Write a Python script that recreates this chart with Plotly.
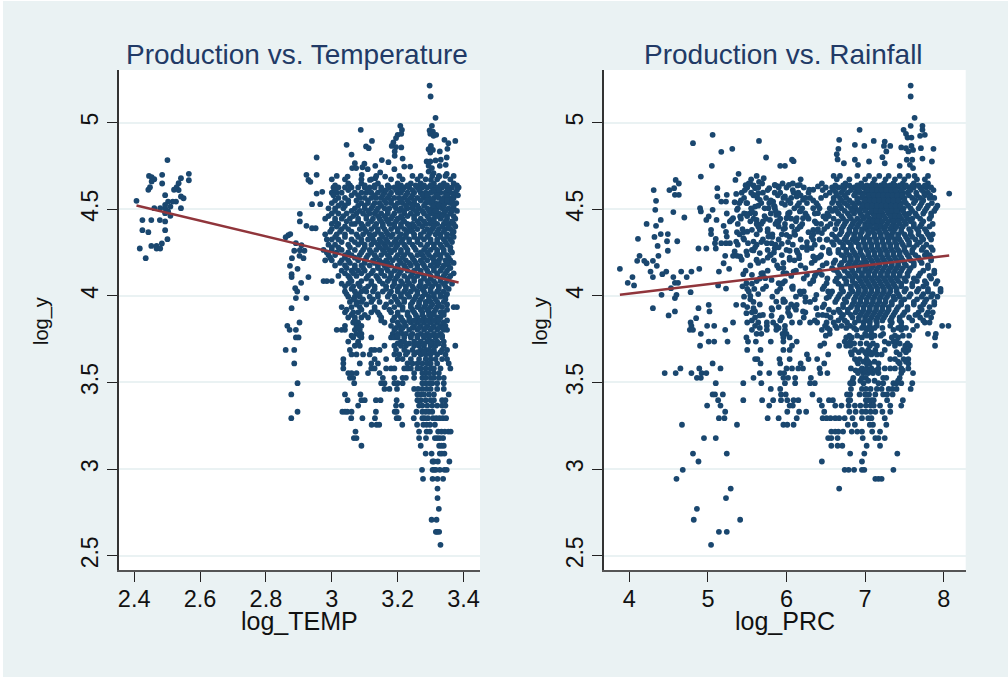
import plotly.graph_objects as go

# ---- Panel A: log_TEMP vs log_y ----
temp_sparse_x = [2.501,2.445,2.453,2.461,2.485,2.453,2.485,2.448,2.443,2.542,2.566,2.566,2.535,2.529,2.521,2.535,2.494,2.407,2.542,2.550,2.527,2.517,2.503,2.494,2.510,2.494,2.479,2.461,2.542,2.503,2.494,2.510,2.425,2.452,2.478,2.494,2.425,2.443,2.494,2.501,2.484,2.452,2.468,2.417,2.468,2.479,2.435,
 2.954,2.923,2.954,2.929,2.935,2.954,2.971,2.940,2.965,2.903,2.903,2.923,2.940,2.951,2.874,2.868,2.860,2.891,2.908,2.886,2.903,2.917,2.902,2.879,2.914,2.873,2.896,2.878,2.878,2.929,2.907,2.889,2.895,2.891,2.923,2.878,2.865,2.872,2.891,2.902,2.891,2.899,2.860,2.886,2.886,2.896,2.877,2.896,2.877,
 3.088,3.045,3.122,3.104,3.112,3.060,3.152,3.172,3.132,3.070,3.062,3.074,3.099,3.093,3.109,3.048,3.091,3.147,3.132,3.116,3.162,3.190,3.220,3.238,3.215,3.208,3.213,3.211,3.200,3.195,3.187,3.182,3.195,3.211,3.191,3.191,
 3.297,3.300,3.315,3.304,3.297,3.307,3.299,3.309,3.317,3.342,3.354,3.375,3.351,3.301,3.294,3.307,3.299,3.328,3.349,3.288,3.299,3.315,3.331,3.328,3.346,3.294,3.304,3.294,3.309,3.349,3.326,3.301]
temp_sparse_y = [4.783,4.692,4.685,4.673,4.698,4.660,4.648,4.627,4.612,4.679,4.704,4.667,4.650,4.627,4.612,4.610,4.581,4.548,4.573,4.563,4.544,4.544,4.544,4.525,4.515,4.506,4.506,4.506,4.506,4.487,4.477,4.462,4.437,4.437,4.437,4.429,4.379,4.367,4.379,4.327,4.302,4.288,4.288,4.273,4.273,4.273,4.217,
 4.798,4.698,4.698,4.669,4.658,4.590,4.600,4.529,4.529,4.473,4.429,4.404,4.390,4.390,4.356,4.350,4.338,4.304,4.292,4.260,4.263,4.260,4.231,4.217,4.217,4.173,4.156,4.125,4.108,4.108,4.075,4.044,4.025,3.987,3.987,3.929,3.827,3.804,3.804,3.846,3.760,3.760,3.688,3.688,3.610,3.496,3.431,3.331,3.294,
 4.958,4.871,4.894,4.862,4.852,4.815,4.783,4.771,4.750,4.765,4.737,4.737,4.762,4.742,4.731,4.688,4.698,4.712,4.679,4.669,4.688,4.731,4.746,4.746,4.792,4.981,4.958,4.935,4.929,4.910,4.885,4.865,4.858,4.856,4.833,4.808,
 5.213,5.150,5.027,4.981,4.954,4.948,4.935,4.923,4.929,4.900,4.881,4.894,4.848,4.865,4.846,4.842,4.827,4.833,4.798,4.775,4.775,4.781,4.785,4.750,4.756,4.750,4.737,4.717,4.708,4.704,4.688,4.669]
n_temp = min(len(temp_sparse_x), len(temp_sparse_y))
temp_sparse_x = temp_sparse_x[:n_temp]
temp_sparse_y = temp_sparse_y[:n_temp]

temp_levels = [4.648,4.625,4.595,4.565,4.535,4.505,4.475,4.445,4.415,4.385,4.355,4.325,4.295,4.265,4.235,4.205,4.175,4.145,4.115,4.085,4.055,4.025,3.995,3.965,3.935,3.905,3.875,
 3.846,3.827,3.804,3.781,3.760,3.736,3.712,3.688,3.662,3.635,3.610,3.581,3.554,3.527,3.496,3.463,3.431,3.398,3.367,3.331,3.294,3.256,3.217,3.179,3.135,3.090,3.044,2.996,2.944,2.888,2.833,2.771,2.708,2.638,2.563]
temp_rows = [
 [3.05,3.09,3.14,3.20,3.24,3.27,3.31,3.34,3.37],
 [3.005,3.02,3.04,3.06,3.08,3.10,3.115,3.13,3.15,3.175,3.19,3.205,3.22,3.235,3.26,3.275,3.29,3.305,3.32,3.335,3.35,3.365,3.385],
 [3.0,3.015,3.03,3.07,3.09,3.105,3.12,3.14,3.16,3.18,3.20,3.21,3.23,3.25,3.27,3.285,3.30,3.315,3.33,3.345,3.36,3.375],
 [3.02,3.04,3.085,3.10,3.12,3.135,3.15,3.17,3.19,3.205,3.22,3.24,3.26,3.28,3.295,3.31,3.325,3.34,3.355,3.37],
 [3.0,3.03,3.05,3.09,3.11,3.13,3.145,3.165,3.18,3.20,3.215,3.235,3.25,3.285,3.30,3.315,3.33,3.345,3.36,3.378],
 [2.99,3.01,3.035,3.07,3.10,3.12,3.14,3.16,3.175,3.195,3.21,3.23,3.245,3.265,3.29,3.305,3.32,3.335,3.355,3.37],
 [3.0,3.02,3.045,3.075,3.095,3.115,3.13,3.15,3.17,3.19,3.22,3.24,3.26,3.28,3.30,3.31,3.325,3.34,3.36],
 [2.98,3.01,3.03,3.055,3.08,3.105,3.125,3.145,3.165,3.18,3.20,3.215,3.25,3.27,3.295,3.31,3.33,3.35,3.375],
 [3.0,3.02,3.06,3.07,3.09,3.11,3.135,3.155,3.175,3.19,3.21,3.23,3.245,3.265,3.285,3.30,3.32,3.34,3.355,3.37],
 [3.0,3.03,3.05,3.085,3.10,3.12,3.14,3.16,3.18,3.20,3.22,3.24,3.26,3.29,3.305,3.325,3.345,3.36],
 [2.98,3.015,3.04,3.075,3.095,3.115,3.13,3.15,3.17,3.185,3.21,3.225,3.25,3.27,3.295,3.315,3.33,3.35,3.365],
 [2.985,3.0,3.02,3.06,3.09,3.11,3.125,3.145,3.165,3.195,3.215,3.235,3.26,3.28,3.30,3.32,3.34,3.36],
 [2.99,3.01,3.05,3.08,3.10,3.12,3.14,3.16,3.18,3.20,3.22,3.245,3.27,3.29,3.31,3.33,3.35],
 [2.975,3.0,3.03,3.07,3.095,3.115,3.135,3.155,3.175,3.19,3.21,3.23,3.255,3.28,3.30,3.32,3.34,3.36],
 [2.99,3.01,3.04,3.06,3.085,3.11,3.13,3.15,3.17,3.20,3.22,3.24,3.26,3.275,3.295,3.315,3.33,3.35],
 [2.98,3.0,3.03,3.05,3.08,3.10,3.125,3.145,3.165,3.185,3.205,3.225,3.25,3.27,3.29,3.31,3.325,3.345,3.36],
 [3.01,3.04,3.07,3.09,3.115,3.14,3.16,3.18,3.20,3.22,3.24,3.26,3.28,3.30,3.32,3.34,3.355],
 [3.03,3.06,3.08,3.10,3.125,3.15,3.17,3.19,3.21,3.23,3.25,3.27,3.29,3.31,3.33,3.35],
 [3.02,3.05,3.075,3.11,3.135,3.16,3.18,3.20,3.22,3.24,3.26,3.28,3.30,3.32,3.34,3.36],
 [2.975,2.985,3.0,3.06,3.09,3.12,3.145,3.17,3.19,3.21,3.23,3.25,3.27,3.29,3.31,3.33,3.35],
 [3.04,3.065,3.085,3.11,3.13,3.165,3.185,3.205,3.225,3.245,3.265,3.285,3.305,3.325,3.345],
 [3.04,3.07,3.09,3.105,3.125,3.155,3.18,3.20,3.22,3.24,3.26,3.28,3.30,3.32,3.34],
 [3.05,3.07,3.085,3.115,3.14,3.17,3.19,3.21,3.235,3.255,3.275,3.295,3.31,3.33,3.345],
 [3.055,3.075,3.09,3.12,3.145,3.18,3.20,3.22,3.245,3.265,3.285,3.30,3.32,3.34],
 [3.03,3.06,3.085,3.13,3.16,3.19,3.215,3.24,3.26,3.28,3.30,3.32,3.335,3.37,3.38],
 [3.04,3.065,3.08,3.12,3.14,3.18,3.20,3.23,3.25,3.275,3.295,3.31,3.33,3.34],
 [3.05,3.07,3.09,3.11,3.15,3.19,3.21,3.235,3.26,3.28,3.30,3.32,3.33],
 [3.065,3.08,3.16,3.20,3.22,3.24,3.26,3.28,3.30,3.32,3.34],
 [3.04,3.075,3.09,3.18,3.205,3.225,3.25,3.27,3.29,3.31,3.33,3.345],
 [3.015,3.03,3.04,3.07,3.085,3.19,3.21,3.235,3.26,3.28,3.30,3.32,3.34,3.35],
 [3.075,3.09,3.185,3.20,3.215,3.225,3.245,3.27,3.29,3.31,3.33],
 [3.065,3.09,3.12,3.18,3.19,3.20,3.22,3.24,3.26,3.28,3.295,3.315,3.335],
 [3.05,3.08,3.21,3.22,3.25,3.27,3.29,3.305,3.32,3.34],
 [3.07,3.085,3.16,3.19,3.21,3.225,3.25,3.265,3.28,3.30,3.315,3.34,3.375],
 [3.055,3.12,3.13,3.145,3.195,3.22,3.245,3.27,3.285,3.295,3.31,3.335,3.35],
 [3.06,3.075,3.095,3.115,3.19,3.205,3.225,3.25,3.27,3.285,3.30,3.32,3.345],
 [3.035,3.13,3.165,3.20,3.215,3.24,3.265,3.285,3.30,3.315,3.335,3.35],
 [3.035,3.085,3.12,3.14,3.23,3.245,3.26,3.275,3.29,3.30,3.32,3.355],
 [3.035,3.12,3.13,3.165,3.18,3.19,3.22,3.23,3.24,3.26,3.27,3.285,3.30,3.31,3.33,3.36],
 [3.05,3.06,3.075,3.11,3.145,3.25,3.275,3.285,3.295,3.31,3.325],
 [3.055,3.065,3.155,3.19,3.215,3.225,3.25,3.275,3.285,3.30,3.31,3.325,3.34],
 [3.068,3.15,3.16,3.19,3.20,3.215,3.275,3.285,3.295,3.305,3.32,3.34],
 [3.16,3.175,3.198,3.25,3.262,3.275,3.288,3.30,3.32,3.34],
 [3.04,3.087,3.26,3.27,3.28,3.295,3.31,3.355],
 [3.048,3.09,3.10,3.134,3.148,3.197,3.26,3.27,3.285,3.30,3.31,3.335,3.345],
 [3.08,3.195,3.212,3.265,3.275,3.29,3.305,3.32,3.335,3.345],
 [3.032,3.04,3.047,3.06,3.134,3.191,3.197,3.257,3.275,3.285,3.295,3.305,3.338],
 [3.059,3.093,3.131,3.197,3.203,3.249,3.275,3.282,3.292,3.307,3.317,3.327,3.337,3.347],
 [3.121,3.136,3.144,3.214,3.259,3.278,3.288,3.298,3.313],
 [3.072,3.265,3.288,3.298,3.323,3.333,3.343,3.354,3.361],
 [3.067,3.075,3.265,3.286,3.313,3.320,3.328,3.338],
 [3.090,3.27,3.326,3.333,3.340],
 [3.285,3.303,3.328,3.334,3.342],
 [3.306,3.310,3.322,3.357],
 [3.274,3.306,3.311,3.316,3.328,3.342,3.349],
 [3.277,3.306,3.321,3.338],
 [3.321],
 [3.321],
 [3.325],
 [3.303,3.318],
 [3.316,3.320,3.326],
 [3.330],
]

temp_fill_levels = [4.692,4.672,4.637,4.61,4.58,4.55,4.52,4.49,4.46,4.43,4.40,4.37,4.34,4.31,4.28,4.25,4.22,4.19,4.16,4.13,4.10,4.07,4.04,4.01,3.98,3.95,3.92,3.89,3.858,3.815,3.77,3.725,3.675]
temp_fill_rows = [
 [3.015,3.135,3.205,3.245,3.27,3.305,3.325,3.345,3.37],
 [3.0,3.04,3.09,3.12,3.18,3.215,3.26,3.285,3.32,3.36],
 [3.01,3.055,3.10,3.13,3.17,3.21,3.23,3.255,3.28,3.30,3.33,3.35,3.38],
 [3.01,3.05,3.11,3.15,3.165,3.195,3.215,3.245,3.265,3.31,3.325,3.355,3.38],
 [3.005,3.06,3.08,3.13,3.155,3.175,3.225,3.245,3.275,3.29,3.32,3.35,3.37,3.383],
 [3.01,3.05,3.075,3.11,3.16,3.18,3.21,3.23,3.25,3.27,3.29,3.305,3.335,3.35,3.365],
 [3.02,3.04,3.08,3.10,3.125,3.15,3.19,3.225,3.245,3.26,3.28,3.31,3.325,3.34,3.37],
 [3.01,3.06,3.085,3.11,3.135,3.17,3.205,3.22,3.255,3.275,3.295,3.315,3.345,3.365,3.38],
 [2.99,3.035,3.065,3.105,3.14,3.16,3.185,3.21,3.23,3.25,3.29,3.32,3.335,3.35,3.37],
 [3.01,3.045,3.08,3.12,3.15,3.17,3.195,3.22,3.26,3.28,3.30,3.31,3.345,3.365],
 [3.015,3.04,3.095,3.13,3.155,3.19,3.21,3.235,3.25,3.275,3.31,3.335,3.355,3.375],
 [2.995,3.025,3.06,3.105,3.14,3.165,3.20,3.23,3.245,3.28,3.30,3.32,3.34,3.37],
 [3.01,3.04,3.08,3.12,3.155,3.18,3.205,3.225,3.25,3.27,3.29,3.33,3.35,3.37],
 [3.03,3.07,3.09,3.13,3.15,3.17,3.19,3.21,3.235,3.26,3.30,3.32,3.345,3.365],
 [3.0,3.02,3.055,3.10,3.145,3.165,3.195,3.225,3.25,3.285,3.31,3.335,3.36],
 [2.985,3.015,3.05,3.09,3.12,3.16,3.18,3.21,3.23,3.27,3.29,3.32,3.34,3.365],
 [2.995,3.04,3.07,3.105,3.135,3.175,3.195,3.215,3.245,3.28,3.305,3.33,3.355],
 [3.025,3.055,3.10,3.13,3.155,3.17,3.21,3.235,3.255,3.275,3.31,3.325,3.35,3.37],
 [3.045,3.07,3.095,3.14,3.165,3.20,3.225,3.26,3.285,3.31,3.335,3.36],
 [3.04,3.065,3.09,3.12,3.15,3.18,3.205,3.245,3.27,3.295,3.32,3.345,3.37],
 [3.055,3.105,3.14,3.175,3.195,3.23,3.25,3.28,3.30,3.33,3.355],
 [3.03,3.05,3.08,3.12,3.155,3.19,3.215,3.235,3.27,3.295,3.315,3.34,3.365],
 [3.06,3.10,3.13,3.165,3.20,3.225,3.25,3.275,3.30,3.325,3.355],
 [3.045,3.08,3.14,3.175,3.21,3.23,3.26,3.285,3.31,3.33,3.35],
 [3.065,3.095,3.125,3.195,3.22,3.25,3.27,3.295,3.315,3.345],
 [3.075,3.105,3.165,3.205,3.24,3.265,3.285,3.305,3.325,3.35],
 [3.045,3.09,3.13,3.175,3.215,3.245,3.27,3.29,3.315,3.35],
 [3.06,3.10,3.145,3.20,3.23,3.255,3.275,3.295,3.31,3.34],
 [3.07,3.15,3.185,3.215,3.235,3.25,3.27,3.29,3.31,3.325,3.35],
 [3.08,3.195,3.215,3.245,3.265,3.285,3.305,3.325,3.34],
 [3.06,3.085,3.20,3.24,3.26,3.28,3.30,3.32,3.335],
 [3.08,3.20,3.235,3.26,3.28,3.30,3.325],
 [3.23,3.26,3.28,3.30,3.31,3.33],
]

temp_fit_x = [2.407, 3.385]
temp_fit_y = [4.521, 4.077]

# ---- Panel B: log_PRC vs log_y ----
prc_sparse_x = [7.58,7.58,7.63,7.58,7.73,7.49,7.73,7.52,7.59,7.54,7.70,7.76,6.93,5.06,4.81,5.65,6.67,7.11,7.25,7.32,7.24,6.87,6.99,6.66,6.64,6.65,6.73,5.17,5.31,5.74,5.05,6.07,6.09,5.92,5.98,7.27,7.22,7.25,7.46,7.52,7.59,7.55,7.61,7.71,7.87,7.73,7.85,7.53,7.60,6.87,7.05,6.91,7.44,7.57,7.61,
 4.91,5.39,5.35,4.59,4.63,4.31,4.51,4.57,4.58,4.63,4.34,4.33,4.56,4.70,4.40,4.22,4.34,4.11,4.32,4.40,4.49,4.48,4.61,4.36,4.49,4.37,4.13,4.10,4.19,4.22,4.30,4.35,3.88,4.27,4.04,4.30,3.98,4.06,4.42,4.47,4.56,4.66,4.73,4.79,4.89,4.58,4.62,4.53,4.41,4.78,4.60,4.58,4.30,4.58,4.50,4.88,5.01,5.02,4.85,5.13,5.23,5.14,5.20,5.27,
 4.88,4.98,5.10,5.09,5.10,5.04,5.04,5.20,5.23,5.24,5.17,5.23,5.28,5.36,5.22,5.34,5.32,5.37,4.90,4.91,5.01,4.98,5.06,5.11,5.24,5.12,5.12,5.17,5.23,5.24,5.34,5.36,5.37,5.28,5.32,8.07]
prc_sparse_y = [5.213,5.150,5.027,4.981,4.981,4.958,4.958,4.935,4.913,4.913,4.923,4.929,4.958,4.929,4.881,4.894,4.900,4.894,4.890,4.865,4.865,4.871,4.865,4.848,4.817,4.787,4.765,4.831,4.848,4.798,4.750,4.785,4.777,4.750,4.750,4.833,4.800,4.765,4.856,4.852,4.865,4.833,4.842,4.852,4.848,4.792,4.775,4.785,4.785,4.785,4.775,4.756,4.750,4.756,4.737,
 4.688,4.704,4.669,4.669,4.648,4.610,4.610,4.621,4.583,4.583,4.548,4.496,4.483,4.452,4.438,4.415,4.404,4.329,4.340,4.356,4.356,4.315,4.315,4.288,4.260,4.231,4.231,4.202,4.202,4.188,4.202,4.173,4.156,4.140,4.108,4.108,4.075,4.060,4.125,4.140,4.108,4.140,4.108,4.140,4.156,4.075,4.075,4.044,4.006,4.021,4.006,3.987,3.929,3.910,3.887,3.929,3.948,3.910,3.871,4.060,4.042,4.140,4.188,4.156,
 4.273,4.273,4.273,4.304,4.329,4.356,4.381,4.404,4.369,4.342,4.304,4.304,4.304,4.313,4.231,4.256,4.231,4.231,4.506,4.487,4.458,4.438,4.496,4.438,4.475,4.621,4.573,4.544,4.544,4.583,4.540,4.588,4.496,4.429,4.448,4.590]
n_prc = min(len(prc_sparse_x), len(prc_sparse_y))
prc_sparse_x = prc_sparse_x[:n_prc]
prc_sparse_y = prc_sparse_y[:n_prc]

# points of the middle band (log_PRC 5.3 to 6.6), read one by one
prc_mid_x = [5.48,5.54,5.60,5.65,5.71,5.78,5.85,5.90,6.03,6.17,6.29,6.34,6.40,
 5.58,5.64,5.66,5.83,5.98,6.09,6.13,6.21,6.26,
 5.49,5.54,5.60,5.77,5.85,5.87,5.98,6.04,6.17,6.34,6.40,
 5.30,5.41,5.49,5.62,5.70,5.79,5.90,6.00,6.13,6.21,6.38,6.47,
 5.37,5.45,5.56,5.66,5.77,5.98,6.07,6.17,6.28,6.34,6.45,
 5.45,5.51,5.58,5.75,5.81,5.94,6.00,6.11,6.26,6.34,6.51,
 5.49,5.58,5.66,5.79,5.85,6.04,6.13,6.32,6.43,6.55,
 5.43,5.41,5.62,5.70,6.04,6.16,6.34,6.51,
 5.45,5.56,5.70,5.96,5.96,6.09,6.26,6.45,6.60,
 5.49,5.73,5.81,5.90,5.95,6.34,6.51,
 5.50,5.59,5.92,6.07,6.17,6.38,6.53,6.24,
 5.54,5.36,5.45,5.58,5.87,5.98,6.13,6.24,6.38,6.51,
 5.49,5.60,5.81,6.02,6.21,5.66,5.81,6.04,6.40,6.51]
prc_mid_y = [4.638,4.646,4.621,4.658,4.679,4.621,4.640,4.631,4.640,4.640,4.612,4.612,4.631,
 4.583,4.592,4.554,4.544,4.573,4.596,4.573,4.554,4.535,
 4.535,4.477,4.515,4.506,4.515,4.467,4.525,4.481,4.487,4.506,4.477,
 4.438,4.458,4.473,4.438,4.429,4.438,4.429,4.448,4.448,4.448,4.419,4.458,
 4.367,4.367,4.381,4.381,4.342,4.390,4.400,4.400,4.367,4.381,4.362,
 4.333,4.304,4.313,4.304,4.304,4.300,4.352,4.352,4.285,4.323,4.323,
 4.256,4.262,4.246,4.237,4.275,4.260,4.262,4.275,4.227,4.246,
 4.208,4.227,4.208,4.202,4.208,4.217,4.227,4.188,
 4.125,4.121,4.131,4.160,4.131,4.140,4.121,4.121,4.150,
 4.073,4.102,4.092,4.073,4.073,4.092,4.073,
 4.040,4.040,4.042,4.050,4.025,4.006,4.025,3.992,
 4.000,3.948,3.948,3.929,3.967,3.967,3.948,3.967,3.929,3.987,
 3.900,3.910,3.929,3.929,3.910,3.887,3.885,3.885,3.890,3.887]

prc_levels = [4.648,4.625,4.595,4.565,4.535,4.505,4.475,4.445,4.415,4.385,4.355,4.325,4.295,4.265,4.235,4.205,4.175,4.145,4.115,4.085,4.055,4.025,3.995,3.965,3.935,3.905,3.875,
 3.846,3.827,3.804,3.781,3.760,3.736,3.712,3.688,3.662,3.635,3.610,3.581,3.554,3.527,3.496,3.463,3.431,3.398,3.367,3.331,3.294,3.256,3.217,3.179,3.135,3.090,3.044,2.996,2.944,2.888,2.833,2.771,2.708,2.638,2.563]
prc_rows = [
 [5.52,5.69,5.95,6.08,6.45,6.75,6.95,7.10,7.24,7.36,7.48,7.62,7.80],
 [5.50,5.64,5.90,6.00,6.22,6.50,6.58,6.66,6.74,6.86,6.92,6.98,7.04,7.10,7.16,7.22,7.28,7.34,7.40,7.50,7.56,7.62,7.70,7.78,7.84],
 [5.43,5.55,5.70,5.85,5.92,6.15,6.28,6.55,6.63,6.70,6.78,6.88,6.94,7.00,7.06,7.12,7.18,7.24,7.30,7.36,7.42,7.48,7.54,7.65,7.75,7.80],
 [5.46,5.63,5.74,5.96,6.06,6.24,6.30,6.44,6.60,6.68,6.76,6.90,6.96,7.02,7.08,7.14,7.20,7.26,7.32,7.38,7.44,7.50,7.60,7.70,7.82,7.88],
 [5.40,5.50,5.68,5.78,5.94,6.05,6.16,6.38,6.58,6.66,6.74,6.84,6.92,6.98,7.04,7.10,7.16,7.22,7.28,7.34,7.40,7.46,7.52,7.62,7.72,7.85],
 [5.38,5.55,5.72,5.85,6.10,6.20,6.42,6.55,6.62,6.70,6.82,6.88,6.95,7.01,7.07,7.13,7.19,7.25,7.31,7.37,7.43,7.49,7.58,7.68,7.78,7.90],
 [5.46,5.60,5.80,5.90,6.02,6.24,6.36,6.52,6.66,6.78,6.86,6.94,7.04,7.10,7.16,7.22,7.30,7.36,7.42,7.50,7.56,7.64,7.74,7.84],
 [5.42,5.58,5.74,5.92,6.06,6.28,6.50,6.60,6.72,6.82,6.90,6.98,7.06,7.12,7.18,7.26,7.34,7.40,7.46,7.54,7.60,7.70,7.82],
 [5.38,5.62,5.68,5.86,5.98,6.20,6.44,6.56,6.64,6.74,6.84,6.92,7.00,7.08,7.14,7.20,7.28,7.36,7.44,7.52,7.62,7.72,7.86],
 [5.44,5.66,5.76,5.96,6.14,6.40,6.48,6.62,6.70,6.80,6.88,6.96,7.02,7.10,7.16,7.24,7.32,7.38,7.46,7.56,7.66,7.76],
 [5.40,5.62,5.82,5.94,6.10,6.34,6.58,6.68,6.78,6.86,6.94,7.04,7.12,7.20,7.28,7.34,7.42,7.50,7.58,7.68,7.80,7.86],
 [5.46,5.70,5.90,6.18,6.42,6.52,6.64,6.74,6.84,6.90,6.98,7.06,7.14,7.22,7.30,7.38,7.44,7.54,7.64,7.74,7.84],
 [5.38,5.62,5.86,6.08,6.36,6.60,6.72,6.82,6.92,7.00,7.08,7.16,7.24,7.32,7.40,7.48,7.56,7.66,7.78],
 [5.56,5.76,6.00,6.26,6.54,6.66,6.76,6.84,6.94,7.02,7.10,7.18,7.26,7.34,7.42,7.50,7.60,7.72,7.86],
 [5.50,5.80,5.94,6.16,6.44,6.70,6.80,6.88,6.96,7.04,7.12,7.20,7.28,7.36,7.44,7.54,7.64,7.76,7.82],
 [5.62,5.84,6.10,6.36,6.62,6.74,6.82,6.90,7.00,7.08,7.16,7.24,7.32,7.40,7.48,7.58,7.70,7.84],
 [5.54,5.88,6.18,6.46,6.68,6.78,6.86,6.94,7.02,7.10,7.18,7.26,7.34,7.42,7.52,7.62,7.80],
 [5.48,5.76,6.12,6.42,6.64,6.74,6.84,6.92,7.00,7.06,7.14,7.22,7.30,7.38,7.46,7.56,7.74,7.88],
 [5.70,6.06,6.36,6.68,6.80,6.88,6.96,7.04,7.12,7.20,7.28,7.36,7.44,7.54,7.68,7.82],
 [5.62,5.98,6.34,6.62,6.76,6.84,6.94,7.02,7.10,7.18,7.26,7.34,7.42,7.52,7.66,7.76,7.92],
 [5.44,5.74,6.08,6.48,6.70,6.82,6.90,6.98,7.06,7.14,7.22,7.30,7.38,7.46,7.60,7.74],
 [5.52,5.88,6.22,6.58,6.72,6.84,6.92,7.00,7.08,7.16,7.24,7.32,7.40,7.50,7.66,7.80,7.96],
 [5.46,5.82,6.12,6.54,6.66,6.78,6.88,6.96,7.04,7.12,7.20,7.28,7.36,7.44,7.56,7.72,7.84,7.92],
 [5.58,5.96,6.30,6.62,6.76,6.86,6.94,7.02,7.10,7.18,7.26,7.34,7.46,7.62,7.76,7.88],
 [5.50,5.90,6.10,6.46,6.72,6.82,6.90,6.98,7.06,7.14,7.22,7.30,7.42,7.54,7.70,7.82],
 [5.56,6.02,6.24,6.60,6.68,6.78,6.88,6.96,7.04,7.12,7.20,7.28,7.38,7.50,7.68,7.80,7.86],
 [5.60,5.94,6.22,6.56,6.70,6.84,6.92,7.00,7.08,7.16,7.24,7.34,7.44,7.56,7.70,7.84],
 [4.78,5.32,5.50,5.64,5.75,5.83,6.07,6.17,6.30,6.39,6.51,6.60,6.77,6.87,6.98,7.06,7.15,7.34,7.46,7.76,7.82],
 [4.79,4.99,5.08,5.60,5.75,5.87,5.98,6.49,6.62,6.70,6.81,6.98,7.06,7.15,7.32,7.46,7.66,7.98,8.06],
 [4.77,4.81,5.22,5.56,5.75,5.87,5.98,6.45,6.55,6.89,7.02,7.08,7.36,7.46,7.61],
 [4.91,5.62,5.68,5.95,6.00,6.55,7.00,7.08,7.23,7.80,7.90],
 [5.49,5.96,6.04,6.76,6.83,6.96,7.08,7.34,7.42,7.89],
 [5.01,5.08,5.25,5.51,5.61,5.80,5.96,6.13,6.74,6.81,7.25,7.36,7.40],
 [4.90,6.07,6.43,6.67,6.76,6.81,7.06,7.15,7.38,7.51,7.57,7.89],
 [5.50,5.67,5.96,6.04,6.87,6.96,7.04,7.13,7.25,7.49,7.55],
 [6.26,6.53,6.83,7.02,7.08,7.15,7.21,7.44],
 [5.60,5.63,5.91,6.04,6.28,6.39,6.87,6.93,7.02,7.32,7.38,7.49,7.55],
 [5.06,5.67,5.92,6.18,6.48,6.91,7.02,7.06,7.17,7.44,7.55],
 [4.65,4.89,5.16,6.00,6.07,6.15,6.21,6.42,6.82,6.96,7.02,7.08,7.17,7.25,7.32,7.38,7.46,7.55],
 [4.45,4.59,4.79,4.92,4.98,5.66,5.78,5.92,5.97,6.43,6.52,6.91,6.98,7.04,7.10,7.17,7.46,7.61],
 [4.86,4.91,5.58,5.96,6.02,6.11,6.31,6.85,6.96,7.01,7.23,7.27,7.44],
 [5.10,5.45,5.68,5.98,6.11,6.30,6.36,6.81,6.85,6.98,7.17,7.23,7.36,7.40,7.46,7.60],
 [5.80,5.92,6.82,6.96,7.01,7.07,7.15,7.21,7.30,7.35,7.40,7.58],
 [5.06,5.09,5.19,5.93,5.99,6.33,6.77,6.81,6.93,7.00,7.05,7.13,7.23,7.28,7.35],
 [5.13,5.45,5.69,5.83,5.93,6.01,6.09,6.15,6.42,6.54,6.59,6.79,6.81,7.01,7.04,7.08,7.11,7.28,7.48],
 [4.99,5.16,5.78,6.04,6.08,6.45,6.62,6.70,6.79,6.87,6.94,7.01,7.07,7.11,7.19,7.32,7.46],
 [5.22,6.01,6.16,6.25,6.48,6.80,6.88,6.96,7.01,7.07,7.13,7.22,7.32],
 [5.14,5.21,5.76,5.90,6.13,6.46,6.51,6.56,6.62,6.67,6.74,6.84,6.96,7.04,7.08,7.25],
 [4.67,5.37,5.96,6.01,6.09,6.78,6.87,7.06,7.10,7.27],
 [6.57,6.62,6.66,6.72,6.83,6.90,6.96,7.09,7.19],
 [4.95,5.10,6.53,6.57,6.65,6.97,7.13,7.17,7.25],
 [6.57,6.65,6.71,7.02,7.19],
 [4.81,5.24,6.81,6.99,7.41],
 [4.88,6.45,6.96],
 [4.68,6.74,6.79,6.86,6.96,6.99,7.36],
 [4.60,7.13,7.17,7.21],
 [5.29,6.67],
 [5.23],
 [4.86],
 [4.82,5.41],
 [5.14,5.24],
 [5.04],
]

prc_fill_levels = [4.692,4.672,4.637,4.61,4.58,4.55,4.52,4.49,4.46,4.43,4.40,4.37,4.34,4.31,4.28,4.25,4.22,4.19,4.16,4.13,4.10,4.07,4.04,4.01,3.98,3.95,3.92,3.89,3.858,3.815,3.77,3.725,3.675,3.62,3.57,3.51]
prc_fill_rows = [
 [5.62,6.60,6.68,6.90,7.05,7.18,7.30,7.44,7.55,7.63,7.80],
 [5.55,6.18,6.64,6.80,7.00,7.12,7.26,7.38,7.50,7.66,7.76],
 [5.58,5.86,6.14,6.62,6.72,6.80,6.90,6.96,7.02,7.08,7.14,7.20,7.26,7.32,7.38,7.44,7.52,7.60,7.68,7.76],
 [5.47,5.76,6.08,6.46,6.60,6.72,6.82,6.92,7.03,7.09,7.15,7.21,7.27,7.33,7.39,7.46,7.58,7.72,7.87],
 [5.58,5.89,6.18,6.50,6.64,6.74,6.86,6.97,7.05,7.11,7.17,7.23,7.29,7.35,7.41,7.47,7.56,7.66,7.76,7.83],
 [5.42,5.80,6.02,6.34,6.60,6.70,6.80,6.90,7.00,7.06,7.12,7.18,7.24,7.30,7.36,7.42,7.50,7.64,7.74],
 [5.64,5.84,6.14,6.40,6.68,6.78,6.87,6.97,7.03,7.09,7.15,7.21,7.27,7.33,7.39,7.45,7.55,7.70,7.80,7.92],
 [5.56,5.86,6.18,6.58,6.64,6.74,6.84,6.92,7.00,7.08,7.14,7.20,7.28,7.34,7.40,7.48,7.60,7.76,7.88],
 [5.50,5.72,6.02,6.26,6.54,6.70,6.80,6.96,7.02,7.12,7.18,7.24,7.32,7.38,7.44,7.52,7.66,7.84],
 [5.54,5.88,6.12,6.36,6.66,6.76,6.86,6.94,7.04,7.10,7.16,7.22,7.30,7.36,7.42,7.50,7.58,7.74],
 [5.64,5.90,6.18,6.52,6.72,6.82,6.90,7.00,7.06,7.14,7.20,7.26,7.34,7.40,7.48,7.62,7.70,7.82],
 [5.50,5.76,6.10,6.40,6.70,6.80,6.88,6.96,7.04,7.10,7.18,7.26,7.36,7.46,7.58,7.68,7.78],
 [5.82,6.04,6.32,6.62,6.76,6.86,6.94,7.02,7.12,7.20,7.28,7.34,7.42,7.52,7.60,7.72,7.82],
 [5.68,6.02,6.26,6.58,6.68,6.78,6.88,6.98,7.06,7.14,7.22,7.30,7.38,7.46,7.56,7.70],
 [5.60,5.90,6.20,6.46,6.72,6.82,6.92,7.00,7.08,7.16,7.24,7.32,7.40,7.50,7.62,7.74,7.84],
 [5.84,6.14,6.54,6.66,6.76,6.86,6.94,7.04,7.12,7.20,7.28,7.36,7.44,7.52,7.60,7.78],
 [5.76,6.04,6.40,6.74,6.82,6.90,6.98,7.06,7.14,7.22,7.30,7.38,7.46,7.56,7.68,7.84],
 [5.64,5.96,6.32,6.60,6.70,6.80,6.88,6.96,7.02,7.10,7.18,7.26,7.34,7.42,7.50,7.62,7.72],
 [5.90,6.24,6.58,6.72,6.82,6.92,7.00,7.08,7.16,7.24,7.32,7.40,7.48,7.58,7.80],
 [5.68,6.00,6.38,6.66,6.78,6.86,6.96,7.04,7.12,7.20,7.28,7.36,7.44,7.54,7.70,7.88],
 [5.66,6.22,6.52,6.64,6.74,6.84,6.92,7.00,7.08,7.16,7.24,7.32,7.40,7.50,7.62,7.84],
 [5.56,5.94,6.30,6.66,6.76,6.88,6.96,7.04,7.12,7.20,7.28,7.36,7.46,7.60,7.78,7.90],
 [5.70,6.08,6.46,6.70,6.82,6.92,7.00,7.08,7.16,7.24,7.32,7.40,7.52,7.68,7.80,7.96],
 [5.64,6.18,6.56,6.68,6.80,6.90,6.98,7.06,7.14,7.22,7.30,7.42,7.58,7.74,7.86],
 [5.54,5.96,6.36,6.64,6.74,6.86,6.94,7.02,7.10,7.18,7.26,7.38,7.50,7.66,7.78],
 [5.66,6.06,6.48,6.72,6.84,6.92,7.00,7.08,7.16,7.24,7.34,7.46,7.62,7.74,7.88],
 [5.82,6.12,6.54,6.66,6.78,6.90,6.98,7.06,7.14,7.22,7.30,7.40,7.54,7.72],
 [5.70,6.04,6.46,6.72,6.82,6.94,7.02,7.10,7.18,7.26,7.36,7.48,7.64,7.78],
 [5.56,5.92,6.36,6.66,6.74,6.92,7.00,7.06,7.14,7.22,7.32,7.44,7.60,7.74],
 [5.66,5.90,6.52,6.64,6.76,6.86,6.96,7.04,7.12,7.22,7.42,7.52],
 [6.50,6.80,6.90,7.02,7.12,7.20,7.38,7.48,7.56],
 [6.48,6.78,6.86,6.94,7.02,7.10,7.30,7.44,7.54],
 [6.82,6.92,7.00,7.06,7.12,7.40,7.52],
 [6.90,6.98,7.04,7.12,7.42,7.52],
 [6.88,6.94,7.00,7.06,7.14,7.48],
 [6.84,6.94,7.04,7.12,7.42],
]

prc_fit_x = [3.88, 8.07]
prc_fit_y = [4.006, 4.233]

y_ticks = [2.5, 3, 3.5, 4, 4.5, 5]
y_tick_labels = ["2.5", "3", "3.5", "4", "4.5", "5"]
temp_ticks = [2.4, 2.6, 2.8, 3, 3.2, 3.4]
temp_tick_labels = ["2.4", "2.6", "2.8", "3", "3.2", "3.4"]
prc_ticks = [4, 5, 6, 7, 8]
prc_tick_labels = ["4", "5", "6", "7", "8"]

def flat(levels, rows):
    xs, ys = [], []
    for lv, row in zip(levels, rows):
        for v in row:
            xs.append(v); ys.append(lv)
    return xs, ys

BG = "#eaf2f3"; NAVY = "#1a476f"; RED = "#90353b"; TITLE = "#213a66"; FONT = "Liberation Sans"
W, H = 1008, 677
fig = go.Figure()

tx, ty = flat(temp_levels, temp_rows)
tx2, ty2 = flat(temp_fill_levels, temp_fill_rows)
px, py = flat(prc_levels, prc_rows)
px2, py2 = flat(prc_fill_levels, prc_fill_rows)
n_mid = min(len(prc_mid_x), len(prc_mid_y))
marker = dict(color=NAVY, size=5.8, line=dict(width=0))
fig.add_trace(go.Scatter(x=temp_sparse_x + tx + tx2, y=temp_sparse_y + ty + ty2, mode="markers", marker=marker, xaxis="x", yaxis="y", showlegend=False))
fig.add_trace(go.Scatter(x=temp_fit_x, y=temp_fit_y, mode="lines", line=dict(color=RED, width=2.4), xaxis="x", yaxis="y", showlegend=False))
fig.add_trace(go.Scatter(x=prc_sparse_x + prc_mid_x[:n_mid] + px + px2, y=prc_sparse_y + prc_mid_y[:n_mid] + py + py2, mode="markers", marker=marker, xaxis="x2", yaxis="y2", showlegend=False))
fig.add_trace(go.Scatter(x=prc_fit_x, y=prc_fit_y, mode="lines", line=dict(color=RED, width=2.4), xaxis="x2", yaxis="y2", showlegend=False))

def xax(rng, dom, ticks, labels, anchor):
    return dict(domain=dom, range=rng, tickmode="array", tickvals=ticks, ticktext=labels,
                ticks="outside", ticklen=10, tickwidth=1.2, tickcolor="#222", showgrid=False, zeroline=False,
                showline=True, linecolor="#555", linewidth=2, anchor=anchor, ticklabelstandoff=-3,
                tickfont=dict(family=FONT, size=23.5, color="#111"))

def yax(dom, anchor):
    return dict(domain=dom, range=[2.418, 5.303], tickmode="array", tickvals=y_ticks, ticktext=y_tick_labels,
                ticks="outside", ticklen=10, tickwidth=1.2, tickcolor="#222", showgrid=True, gridcolor=BG, gridwidth=2,
                zeroline=False, showline=True, linecolor="#333", linewidth=1.5, anchor=anchor, tickangle=-90,
                tickfont=dict(family=FONT, size=23, color="#111"))

def label(text, x, y, size, color, angle=0):
    return dict(text=text, x=x / W, y=(H - y) / H, xref="paper", yref="paper", showarrow=False, textangle=angle,
                xanchor="center", yanchor="middle", font=dict(family=FONT, size=size, color=color))

ydom = [(H - 570) / H, (H - 70) / H]
fig.update_layout(
    width=W, height=H, margin=dict(l=0, r=0, t=0, b=0), autosize=False,
    paper_bgcolor=BG, plot_bgcolor="white", showlegend=False,
    xaxis=xax([2.353, 3.45], [118.7 / W, 480 / W], temp_ticks, temp_tick_labels, "y"),
    yaxis=yax(ydom, "x"),
    xaxis2=xax([3.674, 8.28], [603.7 / W, 965.7 / W], prc_ticks, prc_tick_labels, "y2"),
    yaxis2=yax(ydom, "x2"),
    annotations=[
        label("Production vs. Temperature", 297, 54, 28, TITLE),
        label("Production vs. Rainfall", 783, 54, 28, TITLE),
        label("log_TEMP", 299, 621, 25, "#111"),
        label("log_PRC", 785, 621, 25, "#111"),
        label("log_y", 41, 321, 20, "#111", -90),
        label("log_y", 540, 321, 20, "#111", -90),
    ],
    shapes=[
        dict(type="rect", xref="paper", yref="paper", x0=0, x1=3 / W, y0=0, y1=1, fillcolor="white", line=dict(width=0)),
        dict(type="rect", xref="paper", yref="paper", x0=0, x1=1, y0=(H - 1) / H, y1=1, fillcolor="white", line=dict(width=0)),
    ],
)
fig.write_html("out.html", config={"displayModeBar": False}, post_script="document.body.style.margin='0';document.body.style.overflow='hidden';")
